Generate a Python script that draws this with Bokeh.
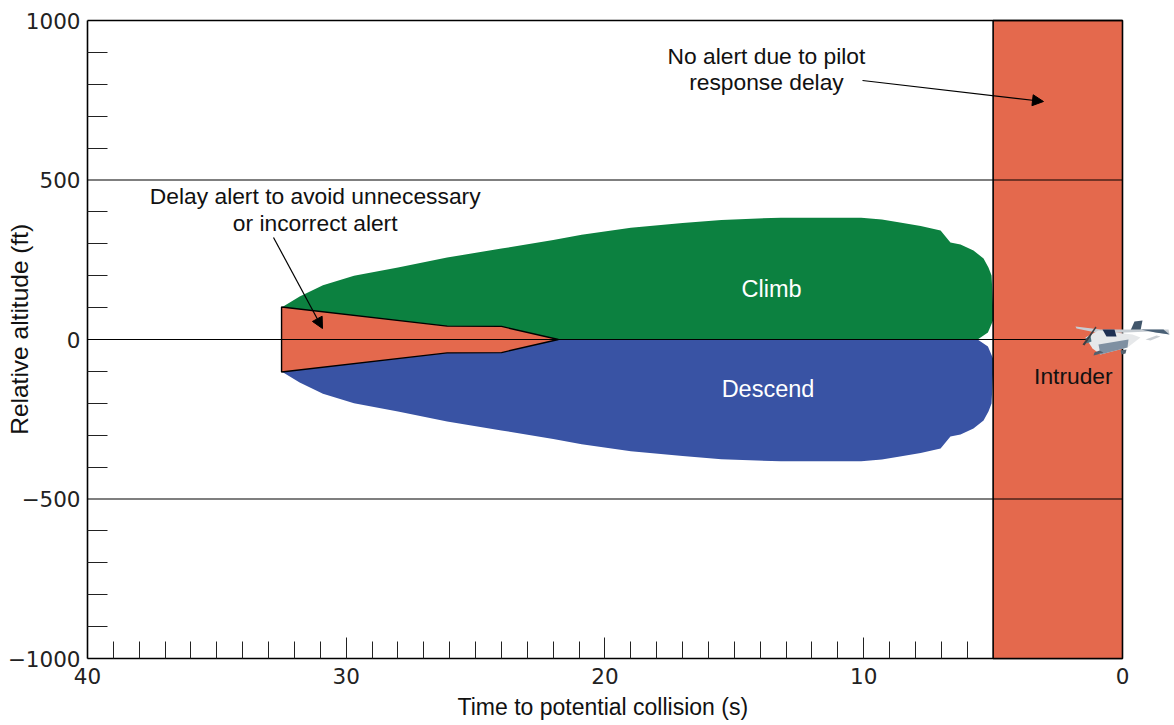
from bokeh.plotting import figure
from bokeh.embed import file_html
from bokeh.resources import INLINE
from bokeh.models import Range1d, FixedTicker, Arrow, NormalHead, Title
from bokeh.core.properties import value

FONT = "Liberation Sans"
TICK_FONT = "DejaVu Sans"
ORANGE = "#E4694D"
GREEN = "#0C8140"
BLUE = "#3953A4"

# Alert envelope
time_s = [32.5, 31.8, 30.9, 29.7, 28.0, 26.1, 24.0, 22.0, 20.9, 19.0, 17.0, 15.5, 13.2, 11.5,
          10.1, 9.3, 8.6, 7.8, 7.03, 6.65, 6.26, 5.76, 5.37, 5.18, 5.06, 5.0, 5.0, 5.2, 5.6]
climb_top = [100, 135, 170, 200, 226, 257, 285, 312, 328, 350, 365, 375, 382, 382,
             382, 376, 367, 356, 342, 304, 298, 279, 254, 226, 201, 100, 60, 22, 0]
descend_bottom = [-100, -135, -170, -200, -226, -257, -285, -312, -328, -350, -365, -375, -382, -382,
                  -382, -376, -367, -356, -342, -304, -298, -279, -254, -226, -201, -100, -60, -22, 0]
delay_t = [32.5, 26.1, 24.0, 21.8, 24.0, 26.1, 32.5]
delay_ft = [102, 42, 41, 0, -41, -42, -102]
no_alert_t = [5.0, 0.0]
no_alert_ft = [-1000, 1000]

x_major = [0, 10, 20, 30, 40]
y_major = [-1000, -500, 0, 500, 1000]

labels = ["No alert due to pilot", "response delay", "Delay alert to avoid unnecessary",
          "or incorrect alert", "Intruder"]
labels_t = [13.76, 13.76, 31.2, 31.2, 1.9]
labels_ft = [890, 806, 451, 364, -113]

X_END = -2.01
p = figure(width=1174, height=725, output_backend="svg", toolbar_location=None,
           x_range=Range1d(40, X_END), y_range=Range1d(-1000, 1000),
           min_border_left=87, min_border_top=20, min_border_right=0, min_border_bottom=67,
           y_axis_label="\u00a0\u00a0\u00a0Relative altitude (ft)")
p.outline_line_color = None
p.background_fill_color = None
p.border_fill_color = None

# axes
xa, ya = p.xaxis[0], p.yaxis[0]
xa.bounds = (0, 40)
xa.ticker = FixedTicker(ticks=x_major, minor_ticks=[v for v in range(1, 40) if v % 10])
ya.ticker = FixedTicker(ticks=y_major, minor_ticks=[v for v in range(-900, 1000, 100) if v % 500])
for a in (xa, ya):
    a.axis_line_color = "black"
    a.axis_line_width = 1.6
    a.major_tick_out = 0
    a.minor_tick_out = 0
    a.major_tick_line_color = "#222222"
    a.minor_tick_line_color = "#222222"
    a.major_label_text_font = TICK_FONT
    a.major_label_text_font_size = "21.5px"
    a.major_label_text_color = "#222222"
xa.major_tick_in = 21
xa.minor_tick_in = 17
xa.major_label_standoff = 9
ya.major_tick_in = 0
ya.minor_tick_in = 20
ya.major_label_standoff = 7
ya.axis_label_text_font = FONT
ya.axis_label_text_font_size = "24.5px"
ya.axis_label_text_font_style = "normal"
ya.axis_label_text_color = "#111111"
ya.axis_label_standoff = -28
p.xgrid.visible = False
p.ygrid.visible = False

# filled regions
p.varea(time_s, y1=[0] * len(time_s), y2=climb_top, fill_color=GREEN)
p.varea(time_s, y1=descend_bottom, y2=[0] * len(time_s), fill_color=BLUE)
p.patch(delay_t, delay_ft, fill_color=ORANGE, line_color="black", line_width=1.4)
p.quad(left=[no_alert_t[0]], right=[no_alert_t[1]], bottom=[no_alert_ft[0]], top=[no_alert_ft[1]],
       fill_color=ORANGE, line_color="black", line_width=1.6, level="annotation")

# full-width reference lines
p.segment(x0=[40, 40, 40, 40], x1=[0, 0, 0, 0], y0=[1000, 500, 0, -500], y1=[1000, 500, 0, -500],
          line_color="black", line_width=[1.6, 1.2, 1.2, 1.2], level="annotation")


def t(px):
    return (1122 - px) / 25.875


def ft(py):
    return (339 - py) / 0.319


# aircraft illustration
def poly(pts, color):
    p.patch([t(a) for a, _ in pts], [ft(b) for _, b in pts], fill_color=color, line_color=None,
            level="overlay")


poly([(1145, 339), (1156, 335), (1160, 336), (1150, 340)], "#C9CED3")
poly([(1130, 330), (1134, 321), (1142, 320), (1140, 330)], "#41566B")
poly([(1075, 326), (1100, 329), (1168, 329), (1169, 334), (1150, 331), (1100, 333), (1076, 328)], "#C7CDD3")
poly([(1140, 329), (1163, 329), (1169, 334), (1155, 332)], "#4A6076")
poly([(1085, 337), (1098, 330), (1132, 334), (1140, 337), (1127, 347), (1100, 354), (1092, 348)], "#E6E8EA")
poly([(1102, 329), (1114, 329), (1116, 336), (1106, 336)], "#1D2F52")
poly([(1098, 344), (1128, 339), (1127, 347), (1100, 354)], "#7F90A2")
poly([(1085, 338), (1090, 335), (1091, 341), (1086, 343)], "#4E7280")
poly([(1095, 326), (1096, 327), (1084, 345), (1082, 344)], "#3B3F44")
poly([(1094, 352), (1099, 350), (1103, 352), (1097, 354), (1093, 355)], "#52606E")
poly([(1120, 350), (1126, 349), (1125, 353), (1121, 354)], "#52606E")

# texts
p.text(labels_t, labels_ft, text=labels, text_font=value(FONT), text_font_size="22.8px",
       text_align="center", text_baseline="middle", text_color="#111111", level="overlay")
p.text([13.56, 13.7], [157, -154], text=["Climb", "Descend"], text_font=value(FONT), text_font_size="23.5px",
       text_align="center", text_baseline="middle", text_color="white", level="overlay")

# x axis title: placed on the 40-0 span, not on the wider frame
p.add_layout(Title(text="Time to potential collision (s)", text_font=FONT, text_font_size="23px",
                   text_font_style="normal", text_color="#111111", align="left", offset=370,
                   standoff=10), "below")

for (a, b, c, d) in [(273, 237, 322, 328), (862, 80, 1043, 101)]:
    p.add_layout(Arrow(end=NormalHead(size=11, fill_color="black", line_color="black"),
                       x_start=t(a), y_start=ft(b), x_end=t(c), y_end=ft(d),
                       line_color="black", line_width=1.2, level="overlay"))

open("out.html", "w").write(file_html(p, INLINE))
